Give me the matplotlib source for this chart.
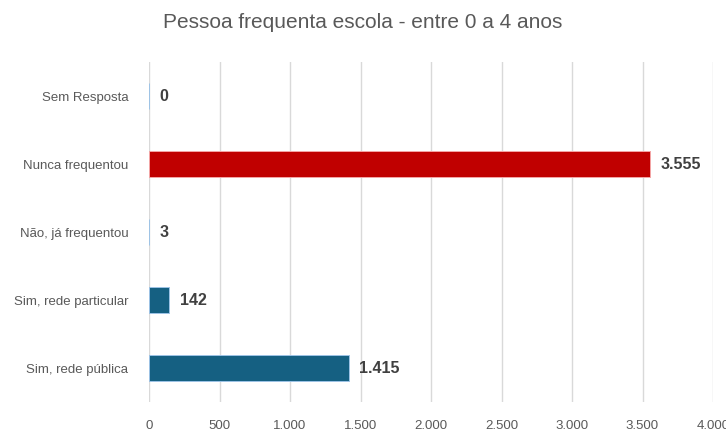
import matplotlib.pyplot as plt
from matplotlib.ticker import FuncFormatter

categories = ["Sim, rede pública", "Sim, rede particular", "Não, já frequentou", "Nunca frequentou", "Sem Resposta"]
values = [1415, 142, 3, 3555, 0]
colors = ["#156082", "#156082", "#156082", "#C00000", "#156082"]
edges = ["#9DC3E6", "#9DC3E6", "#9DC3E6", "#F4A6A6", "#9DC3E6"]
ticks = [0, 500, 1000, 1500, 2000, 2500, 3000, 3500, 4000]

plt.rcParams['font.family'] = ['Liberation Sans', 'DejaVu Sans']

def br(x):
	return "{:,.0f}".format(x).replace(",", ".")

fig = plt.figure(figsize=(7.26, 4.31), dpi=100)
ax = fig.add_axes([149/726, 1-403/431, (713-149)/726, 340/431])
ypos = range(len(categories))
ax.barh(ypos, values, height=0.37, color=colors, edgecolor=edges, linewidth=0.7, zorder=3)
for y, v in zip(ypos, values):
	ax.text(v + 75, y, br(v), va="center", ha="left", fontsize=11.5, fontweight="bold", color="#404040")

ax.set_xlim(0, 4000)
ax.set_ylim(-0.5, len(categories) - 0.5)
ax.set_xticks(ticks)
ax.xaxis.set_major_formatter(FuncFormatter(lambda x, p: br(x)))
ax.set_yticks(list(ypos))
ax.set_yticklabels(categories)
ax.tick_params(axis="both", length=0, colors="#595959", labelsize=9.5)
ax.tick_params(axis="x", pad=12)
ax.tick_params(axis="y", pad=15)
ax.grid(axis="x", color="#D9D9D9", linewidth=1, zorder=0)
for s in ax.spines.values():
	s.set_visible(False)

fig.suptitle("Pessoa frequenta escola - entre 0 a 4 anos", x=0.5, y=0.97, fontsize=15, color="#595959")
fig.savefig("out.png", dpi=100, facecolor="white")
